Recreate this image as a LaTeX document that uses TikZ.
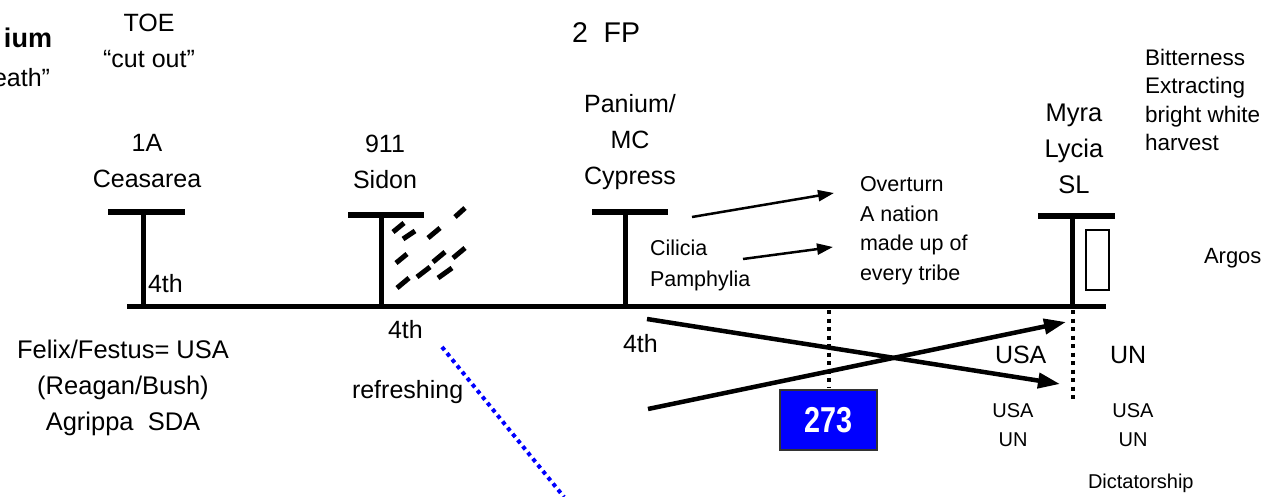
\documentclass[tikz,border=0pt]{standalone}
\usepackage{fontspec}
\setmainfont{Liberation Sans}
\usetikzlibrary{arrows.meta}
\begin{document}
\begin{tikzpicture}[x=1pt,y=-1pt,
  txt/.style={inner sep=0pt, outer sep=0pt},
  big/.style={txt, font=\fontsize{25}{36}\selectfont},
  mid/.style={txt, font=\fontsize{21.5}{29.5}\selectfont},
  sml/.style={txt, font=\fontsize{20}{29}\selectfont},
  heavy/.style={line width=5pt},
  bigarrow/.style={line width=4.5pt, -{Triangle[length=22pt,width=15pt]}},
  thinarrow/.style={line width=2.5pt, -{Triangle[length=16pt,width=11pt]}},
  dotline/.style={line width=4pt, dash pattern=on 4pt off 4.5pt},
  bluedots/.style={line width=4pt, blue, dash pattern=on 4pt off 4pt},
  slash/.style={line width=5pt}
]
\useasboundingbox (0,0) rectangle (1263,497);

% cut-off texts at the left edge
\node[txt, font=\fontsize{27}{36}\selectfont\bfseries, anchor=base east] (ium) at (52,48) {ium};
\node[big, anchor=base east] (eath) at (50,87) {eath”};

% top labels
\node[big, align=center, anchor=north] (toe) at (149,14) {TOE\\“cut out”};
\node[txt, font=\fontsize{28.5}{36}\selectfont, anchor=base west] (fp) at (572,43) {2\ \ FP};

% station labels
\node[big, align=center, anchor=north] (ces) at (147,134) {1A\\Ceasarea};
\node[big, align=center, anchor=north] (sid) at (385,135) {911\\Sidon};
\node[big, align=center, anchor=north] (pan) at (630,94) {Panium/\\MC\\Cypress};
\node[txt, font=\fontsize{25.5}{36}\selectfont, align=center, anchor=north] (myr) at (1074,103.5) {Myra\\Lycia\\SL};

\node[txt, font=\fontsize{22.5}{28.5}\selectfont, align=left, anchor=north west] (bit) at (1145,49)
  {Bitterness\\Extracting\\bright white\\harvest};
\node[txt, font=\fontsize{22}{28.5}\selectfont, anchor=base west] (arg) at (1204,263) {Argos};

\node[mid, align=left, anchor=north west] (ovt) at (860,176.5)
  {Overturn\\A nation\\made up of\\every tribe};
\node[txt, font=\fontsize{21.5}{31}\selectfont, align=left, anchor=north west] (cil) at (650,239.5)
  {Cilicia\\Pamphylia};

% T shapes and main line
\draw[heavy] (127,306) -- (1106,306);
\draw[heavy] (108,212) -- (185,212);
\draw[heavy] (143,212) -- (143,306);
\draw[heavy] (348,215) -- (424,215);
\draw[heavy] (381,215) -- (381,306);
\draw[heavy] (592,212) -- (668,212);
\draw[heavy] (625,212) -- (625,306);
\draw[heavy] (1038,216) -- (1115,216);
\draw[heavy] (1072,216) -- (1072,306);
\draw[line width=1.2pt] (1086,230) rectangle (1109,290);

% dashes beside Sidon
\foreach \a/\b/\c/\d in {455/217/465/208, 393/232/404/223, 403/239/415/231, 428/238/440/228,
  396/263/407/254, 433/262/445/252, 453/258/465/248, 397/288/409/278, 417/277/430/267, 438/278/452/268}
  \draw[slash] (\a,\b) -- (\c,\d);

% 4th labels etc.
\node[big, anchor=base west] (f1) at (148,292) {4th};
\node[big, anchor=base west] (f2) at (388,338) {4th};
\node[big, anchor=base west] (ref) at (352,398) {refreshing};
\node[big, anchor=base west] (f3) at (623,352) {4th};

\node[txt, font=\fontsize{25.5}{36}\selectfont, align=center, anchor=north] (fel) at (123,340)
  {Felix/Festus= USA\\(Reagan/Bush)\\Agrippa\ \ SDA};

% arrows from Panium
\coordinate (a1s) at (692,217); \coordinate (a1e) at (834,193);
\coordinate (a2s) at (743,259); \coordinate (a2e) at (833,247);
\draw[thinarrow] (a1s) -- (a1e);
\draw[thinarrow] (a2s) -- (a2e);

% dotted verticals
\coordinate (d1s) at (829,310); \coordinate (d1e) at (829,387);
\coordinate (d2s) at (1073,310); \coordinate (d2e) at (1073,402);
\draw[dotline] (d1s) -- (d1e);
\draw[dotline] (d2s) -- (d2e);

% crossing arrows
\coordinate (x1s) at (647,319); \coordinate (x1e) at (1060,384);
\coordinate (x2s) at (648,409); \coordinate (x2e) at (1066,322);
\draw[bigarrow] (x1s) -- (x1e);
\draw[bigarrow] (x2s) -- (x2e);

% 273 box
\node[draw=black!80, line width=1.5pt, fill=blue, text=white, minimum width=97pt, minimum height=60pt,
  inner sep=0pt] (b273) at (828.5,420)
  {\scalebox{0.8}[1]{\fontsize{36}{36}\selectfont\bfseries 273}};

% USA / UN labels
\node[big, anchor=base west] (usa) at (995,363) {USA};
\node[big, anchor=base west] (un) at (1110,363) {UN};
\node[sml, align=center, anchor=north] (uu1) at (1013,403.5) {USA\\UN};
\node[sml, align=center, anchor=north] (uu2) at (1133,403.5) {USA\\UN};
\node[sml, anchor=base west] (dic) at (1088,488) {Dictatorship};

% blue dotted line
\coordinate (bd1) at (442,347); \coordinate (bd2) at (564,497);
\draw[bluedots] (bd1) -- (bd2);
\end{tikzpicture}
\end{document}
